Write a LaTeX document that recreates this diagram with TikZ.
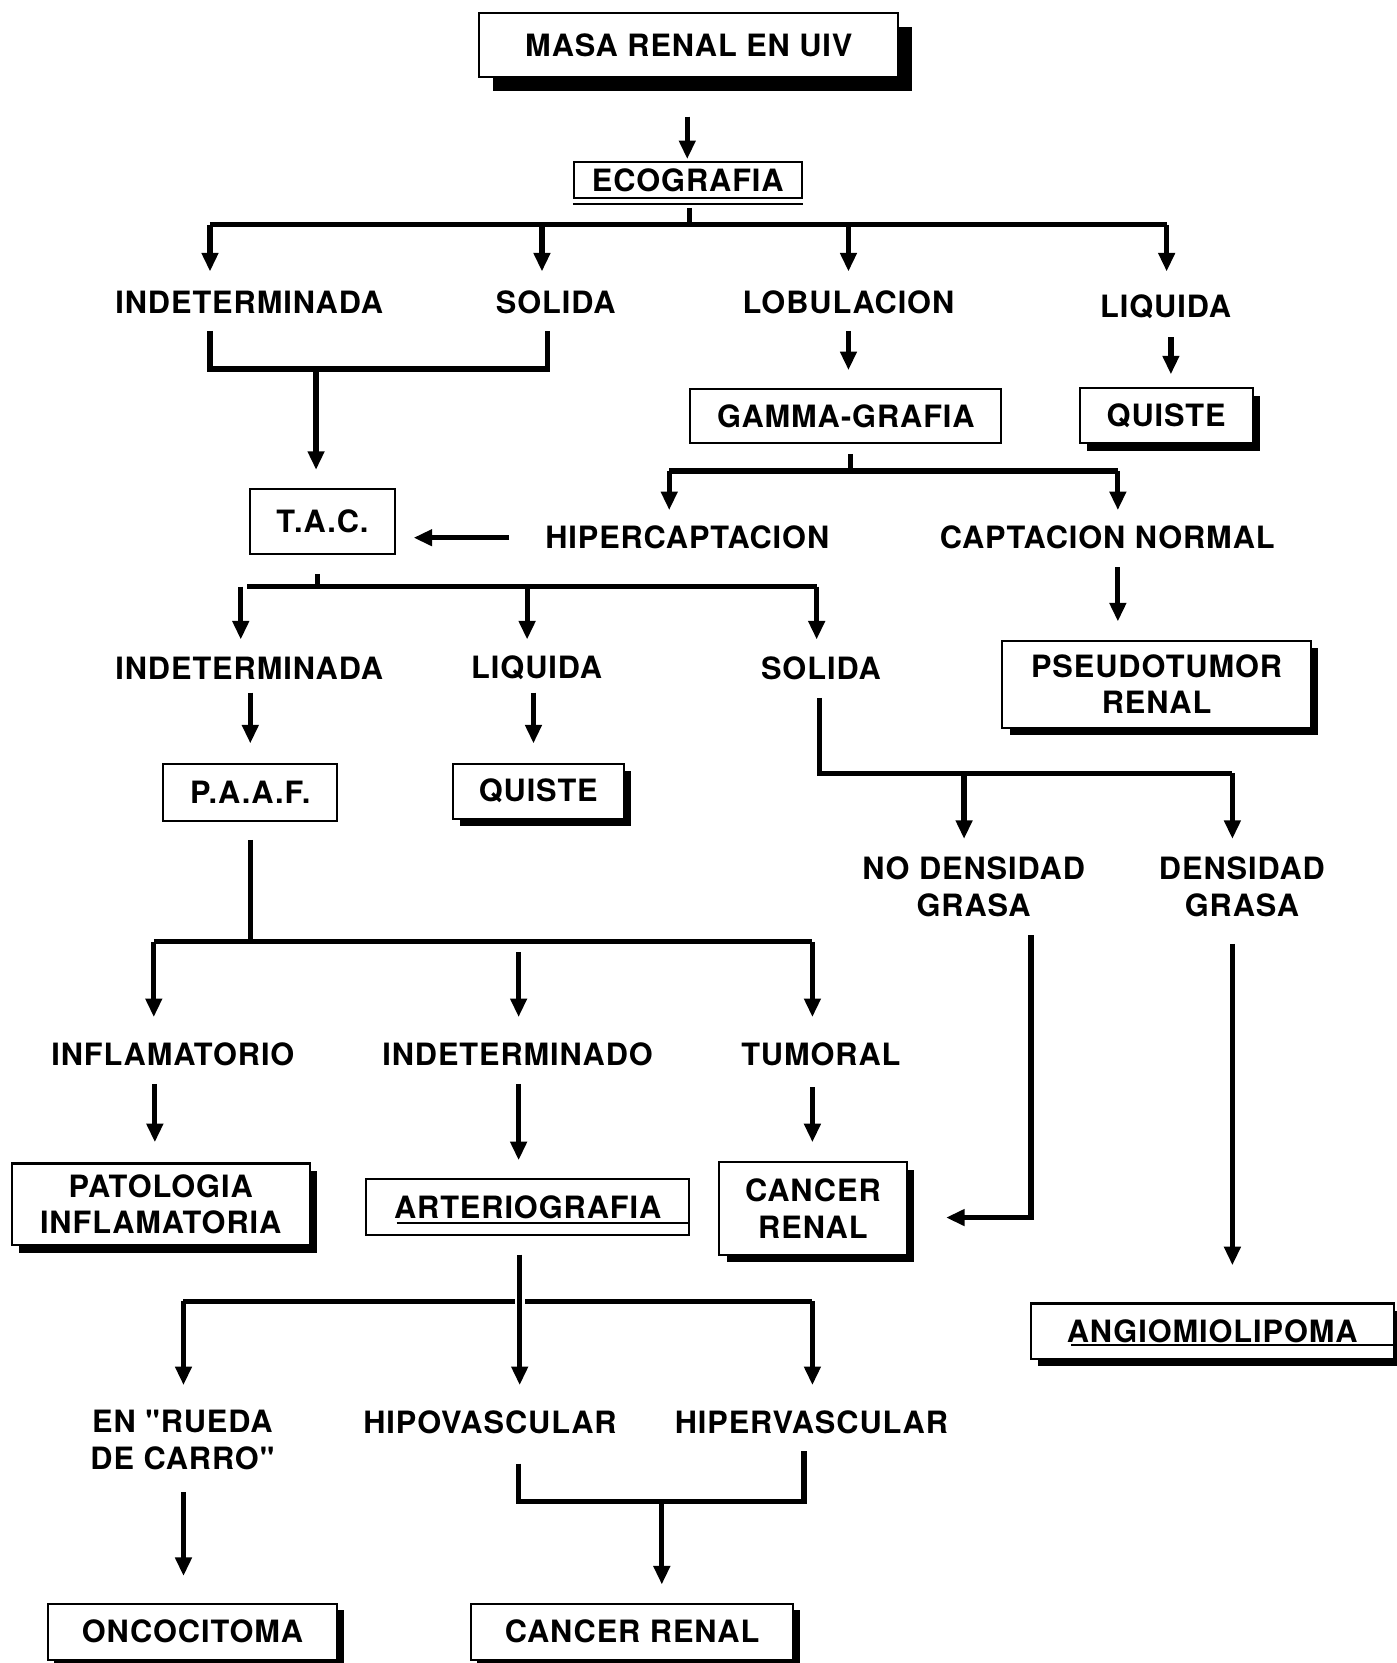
\documentclass[tikz,border=0pt]{standalone}
\usepackage{fontspec}
\setmainfont[LetterSpace=3,Ligatures=TeXOff]{TeX Gyre Heros}
\usetikzlibrary{arrows.meta,shadows}

\begin{document}
\begin{tikzpicture}[x=0.02cm,y=-0.02cm,
  txt/.style={font=\fontsize{16.5}{19.8}\selectfont\bfseries, align=center},
  lab/.style={txt, inner sep=0pt},
  bx/.style 2 args={txt, draw, line width=1.1pt, fill=white, inner sep=0pt,
    minimum width=#1*0.02cm, minimum height=#2*0.02cm},
  sh/.style={drop shadow={shadow xshift=#1*0.02cm, shadow yshift=-#1*0.02cm,
    fill=black, opacity=1}},
  ln/.style={line width=2.8pt, line join=miter},
  arr/.style={ln, -{Triangle[width=0.3cm,length=0.35cm]}},
  uline/.style={line width=1.3pt}
]
\useasboundingbox (0,0) rectangle (1317,1568);

% ---------- boxes ----------
\node[bx={395}{61}, sh=13] (masa) at (649.5,42.5) {MASA RENAL EN UIV};
\node[bx={215}{34}] (eco) at (648.5,170) {ECOGRAFIA};
\draw[line width=1.1pt] ([yshift=-0.08cm]eco.south west) -- ([yshift=-0.08cm]eco.south east);
\node[bx={293}{51}] (gamma) at (797.5,392.5) {GAMMA-GRAFIA};
\node[bx={163}{52}, sh=7] (quisteA) at (1099.5,392) {QUISTE};
\node[bx={136}{61}] (tac) at (304,491.5) {T.A.C.};
\node[bx={291}{82}, sh=7] (pseudo) at (1090.5,645) {PSEUDOTUMOR\\RENAL};
\node[bx={164}{54}] (paaf) at (236,747) {P.A.A.F.};
\node[bx={161}{52}, sh=7] (quisteB) at (507.5,746) {QUISTE};
\node[bx={281}{77}, sh=7] (patol) at (151.5,1135.5) {PATOLOGIA\\INFLAMATORIA};
\node[bx={305}{52}] (arterio) at (497.5,1138) {ARTERIOGRAFIA};
\draw[uline] (374,1153) -- (arterio.east |- 0,1153);
\node[bx={177}{87}, sh=7] (cancerA) at (766.5,1139.5) {CANCER\\RENAL};
\node[bx={342}{52}, sh=7] (angio) at (1143,1255) {ANGIOMIOLIPOMA};
\draw[uline] (1010,1268) -- (angio.east |- 0,1268);
\node[bx={273}{53}, sh=6] (onco) at (181.5,1538.5) {ONCOCITOMA};
\node[bx={304}{53}, sh=6] (cancerB) at (596,1538.5) {CANCER RENAL};

% ---------- labels ----------
\node[lab] (indA)  at (235,285)  {INDETERMINADA};
\node[lab] (solA)  at (524,285)  {SOLIDA};
\node[lab] (lobul) at (800,285)  {LOBULACION};
\node[lab] (liqA)  at (1099,289) {LIQUIDA};
\node[lab] (hiper) at (648,507)  {HIPERCAPTACION};
\node[lab] (capt)  at (1044,507) {CAPTACION NORMAL};
\node[lab] (indB)  at (235,630)  {INDETERMINADA};
\node[lab] (liqB)  at (506,630)  {LIQUIDA};
\node[lab] (solB)  at (774,630)  {SOLIDA};
\node[lab] (nodens) at (918,836) {NO DENSIDAD\\GRASA};
\node[lab] (dens)  at (1171,836) {DENSIDAD\\GRASA};
\node[lab] (inflam) at (163,994) {INFLAMATORIO};
\node[lab] (indeto) at (488,994) {INDETERMINADO};
\node[lab] (tumor) at (774,994)  {TUMORAL};
\node[lab] (rueda) at (172,1358) {EN "RUEDA\\DE CARRO"};
\node[lab] (hipo)  at (462,1341) {HIPOVASCULAR};
\node[lab] (hiperv) at (765,1341) {HIPERVASCULAR};

% ---------- junction points ----------
\coordinate (m0) at (648,110);   \coordinate (m1) at (648,150);
\coordinate (e0) at (650,212);
\coordinate (eL) at (198,212);   \coordinate (eR) at (1100,212);
\coordinate (eS) at (511,212);   \coordinate (eB) at (800,212);
\coordinate (g0) at (802,444);
\coordinate (gL) at (631,444);   \coordinate (gR) at (1054,444);
\coordinate (k0) at (298,348);
\coordinate (t0) at (299,553);
\coordinate (tL) at (227,553);   \coordinate (tM) at (497,553);   \coordinate (tR) at (770,553);
\coordinate (s0) at (773,729);
\coordinate (sM) at (909,729);   \coordinate (sR) at (1162,729);
\coordinate (n0) at (972,1148);
\coordinate (p0) at (236,888);
\coordinate (pL) at (145,888);   \coordinate (pR) at (766,888);
\coordinate (a0) at (490,1227);
\coordinate (aL) at (173,1227);  \coordinate (aR) at (766,1227);
\coordinate (h0) at (624,1416);

% ---------- connectors ----------
\draw[arr] (m0) -- (m1);
\draw[ln] ([yshift=-0.16cm]eco.south -| e0) -- (e0);
\draw[ln] (eL) -- (eR);
\draw[arr] (eL) -- ++(0,44);
\draw[arr] (eS) -- ++(0,44);
\draw[arr] (eB) -- ++(0,44);
\draw[arr] (eR) -- ++(0,44);

% indeterminada / solida merge
\draw[ln] (198,312) |- (k0) -| (516,312);
\draw[arr] (k0) -- (298,443);

\draw[arr] (800,312) -- (800,349);
\draw[arr] (1104,318) -- (1104,353);

% gamma-grafia split
\draw[ln] (802,428) -- (g0);
\draw[ln] (gL) -- (gR);
\draw[arr] (gL) -- ++(0,37);
\draw[arr] (gR) -- ++(0,37);
\draw[arr] (480,507) -- (390,507);
\draw[arr] (1054,535) -- (1054,586);

% T.A.C. split
\draw[ln] (299,541) -- (t0);
\draw[ln] (233,553) -- (tR);
\draw[arr] (tL) -- ++(0,50);
\draw[arr] (tM) -- ++(0,50);
\draw[arr] (tR) -- ++(0,50);

\draw[arr] (236,653) -- (236,701);
\draw[arr] (503,653) -- (503,701);

% solida branch
\draw[ln] (773,658) |- (sR);
\draw[arr] (sM) -- ++(0,62);
\draw[arr] (sR) -- ++(0,62);
\draw[arr] (972,882) |- (n0) -- (892,1148);
\draw[arr] (1162,890) -- (1162,1193);

% P.A.A.F. split
\draw[ln] (236,792) -- (p0);
\draw[ln] (pL) -- (pR);
\draw[arr] (pL) -- ++(0,71);
\draw[arr] (pR) -- ++(0,71);
\draw[arr] (489,898) -- (489,959);

\draw[arr] (146,1022) -- (146,1077);
\draw[arr] (489,1022) -- (489,1094);
\draw[arr] (766,1025) -- (766,1077);

% arteriografia split
\draw[ln] (aL) -- (aR);
\draw[arr] (aL) -- ++(0,79);
\draw[arr] (aR) -- ++(0,79);
\draw[white, line width=5.5pt] (490,1214) -- (490,1240);
\draw[arr] (490,1183) -- (490,1306);

\draw[arr] (173,1407) -- (173,1486);
\draw[ln] (489,1380) |- (h0) -| (758,1368);
\draw[arr] (h0) -- (624,1494);
\end{tikzpicture}
\end{document}
